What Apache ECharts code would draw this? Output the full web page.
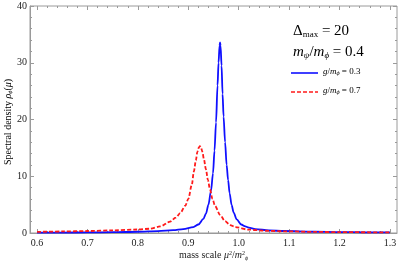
<!DOCTYPE html>
<html><head><meta charset="utf-8">
<script src="https://cdn.jsdelivr.net/npm/echarts@6/dist/echarts.min.js"></script>
<style>html,body{margin:0;padding:0;background:#fff}#c{width:399px;height:265px}</style>
</head><body><div id="c"></div>
<script>
// Data
const seriesNames = ['g/m = 0.3', 'g/m = 0.7'];
const blueX = [0.600,0.650,0.700,0.750,0.800,0.840,0.870,0.890,0.910,0.920,0.930,0.935,0.940,0.945,0.949,0.952,0.955,0.958,0.960,0.962,0.963,0.964,0.966,0.968,0.970,0.973,0.976,0.979,0.982,0.986,0.990,0.996,1.005,1.013,1.020,1.033,1.060,1.090,1.150,1.200,1.250,1.300];
const blueY = [0.05,0.07,0.10,0.14,0.22,0.33,0.50,0.70,1.05,1.50,2.50,3.40,5.00,7.40,10.5,14.5,19.5,26.0,30.0,33.0,33.6,33.0,29.5,24.5,20.5,16.0,12.0,9.3,7.0,4.9,3.6,2.4,1.5,1.15,0.95,0.70,0.45,0.35,0.22,0.16,0.12,0.10];
const redX = [0.600,0.650,0.700,0.750,0.800,0.824,0.844,0.864,0.875,0.884,0.894,0.900,0.907,0.911,0.915,0.918,0.921,0.923,0.925,0.928,0.931,0.935,0.939,0.943,0.948,0.953,0.963,0.973,0.983,0.993,1.019,1.052,1.090,1.150,1.200,1.300];
const redY = [0.20,0.27,0.35,0.46,0.62,0.75,1.15,2.0,2.7,3.5,4.8,6.0,8.5,10.8,12.8,14.3,15.1,15.3,15.1,14.3,13.0,11.2,9.3,7.7,6.0,4.8,3.2,2.1,1.4,1.05,0.6,0.4,0.3,0.2,0.15,0.10];
const legendValues = ['0.3', '0.7'];
const xTicks = [0.6,0.7,0.8,0.9,1.0,1.1,1.2,1.3];
const yTicks = [0,10,20,30,40];

const serif = "'Liberation Serif','Times New Roman',serif";
const frame = '#9a9a9a';
const blue = '#1010ff', red = '#ff1a1a';
const zip = (xs, ys) => xs.map((x, i) => [x, ys[i]]);
const chart = echarts.init(document.getElementById('c'), null, {renderer: 'canvas'});
const tickStyle = {show: true, inside: true, length: 4, lineStyle: {color: frame, width: 1}};
const minorStyle = {show: true, splitNumber: 5, length: 2, lineStyle: {color: frame, width: 1}};
const labelStyle = {fontFamily: serif, fontSize: 10, color: '#222'};
const titleRich = {
  n: {fontFamily: serif, fontSize: 10, color: '#222'},
  i: {fontFamily: serif, fontStyle: 'italic', fontSize: 10, color: '#222'},
  sup: {fontFamily: serif, fontSize: 6, color: '#222', verticalAlign: 'top', padding: [0,0,5,0]},
  sub: {fontFamily: serif, fontStyle: 'italic', fontSize: 6, color: '#222', verticalAlign: 'bottom', padding: [4,0,0,0]}
};
const legendRich = {
  i: {fontFamily: serif, fontStyle: 'italic', fontSize: 9, color: '#222'},
  sub: {fontFamily: serif, fontStyle: 'italic', fontSize: 6, color: '#222', verticalAlign: 'bottom', padding: [4,0,0,0]},
  n: {fontFamily: serif, fontSize: 9, color: '#222'}
};
const legendGraphics = [];
[[blue, 'solid', 73], [red, [4, 2], 92]].forEach((d, k) => {
  legendGraphics.push({type: 'line', shape: {x1: 291, y1: d[2], x2: 318, y2: d[2]},
    style: {stroke: d[0], lineWidth: 1.6, lineDash: d[1] === 'solid' ? null : d[1]}});
  legendGraphics.push({type: 'text', left: 323, top: d[2] - 6, style: {
    text: '{i|g}{n|/}{i|m}{sub|ϕ}{n| = ' + legendValues[k] + '}', rich: legendRich}});
});
chart.setOption({
  animation: false,
  grid: [
    {left: 30, right: 2, top: 6, bottom: 32, show: true, borderColor: frame, borderWidth: 1, containLabel: false, outerBoundsMode: 'none'},
    {left: 37, right: 9, top: 6, bottom: 32, containLabel: false, outerBoundsMode: 'none'}
  ],
  xAxis: [
    {gridIndex: 0, type: 'value', min: 0.586, max: 1.314,
     axisLine: {show: true, lineStyle: {color: frame}}, axisTick: {show: false}, axisLabel: {show: false}, splitLine: {show: false},
     name: '{n|mass scale }{i|μ}{sup|2}{n|/}{i|m}{sup|2}{sub|ϕ}', nameLocation: 'middle', nameGap: 17,
     nameTextStyle: {rich: titleRich}},
    {gridIndex: 1, type: 'value', min: xTicks[0], max: xTicks[xTicks.length-1], interval: 0.1, position: 'bottom',
     axisLine: {show: false}, axisTick: tickStyle, minorTick: minorStyle, splitLine: {show: false},
     axisLabel: Object.assign({margin: 5, formatter: v => v.toFixed(1)}, labelStyle)},
    {gridIndex: 1, type: 'value', min: xTicks[0], max: xTicks[xTicks.length-1], interval: 0.1, position: 'top',
     axisLine: {show: false}, axisTick: tickStyle, minorTick: minorStyle, splitLine: {show: false}, axisLabel: {show: false}}
  ],
  yAxis: [
    {gridIndex: 0, type: 'value', min: yTicks[0], max: yTicks[yTicks.length-1], interval: 10,
     axisLine: {show: true, lineStyle: {color: frame}}, axisTick: tickStyle, minorTick: minorStyle, splitLine: {show: false},
     axisLabel: Object.assign({margin: 3}, labelStyle)},
    {gridIndex: 0, type: 'value', min: yTicks[0], max: yTicks[yTicks.length-1], interval: 10, position: 'right',
     axisLine: {show: false}, axisTick: tickStyle, minorTick: minorStyle, splitLine: {show: false}, axisLabel: {show: false}},
    {gridIndex: 1, type: 'value', min: 0, max: 40, show: false}
  ],
  graphic: [
    {type: 'text', x: 8, y: 122, rotation: Math.PI / 2, style: {
      text: '{n|Spectral density }{i|ρ}{sub|ϕ}{n|(}{i|μ}{n|)}', rich: titleRich,
      align: 'center', verticalAlign: 'middle'}},
    {type: 'text', left: 293, top: 24, style: {
      text: '{d|Δ}{s|max}{d| = 20}',
      rich: {d: {fontFamily: serif, fontSize: 15, color: '#111'},
             s: {fontFamily: serif, fontSize: 9, color: '#111', verticalAlign: 'bottom', padding: [6,0,0,0]}}}},
    {type: 'text', left: 293, top: 45, style: {
      text: '{i|m}{s|ψ}{d|/}{i|m}{s|ϕ}{d| = 0.4}',
      rich: {d: {fontFamily: serif, fontSize: 15, color: '#111'},
             i: {fontFamily: serif, fontStyle: 'italic', fontSize: 15, color: '#111'},
             s: {fontFamily: serif, fontStyle: 'italic', fontSize: 9, color: '#111', verticalAlign: 'bottom', padding: [6,0,0,0]}}}}
  ].concat(legendGraphics),
  series: [
    {name: seriesNames[0], type: 'line', xAxisIndex: 0, yAxisIndex: 0, data: zip(blueX, blueY),
     showSymbol: false, symbol: 'none', smooth: 0.3, smoothMonotone: 'x',
     lineStyle: {color: blue, width: 1.8}, itemStyle: {color: blue}, z: 3},
    {name: seriesNames[1], type: 'line', xAxisIndex: 0, yAxisIndex: 0, data: zip(redX, redY),
     showSymbol: false, symbol: 'none', smooth: 0.3, smoothMonotone: 'x',
     lineStyle: {color: red, width: 1.8, type: [4, 2]}, itemStyle: {color: red}, z: 4}
  ]
});
</script></body></html>
